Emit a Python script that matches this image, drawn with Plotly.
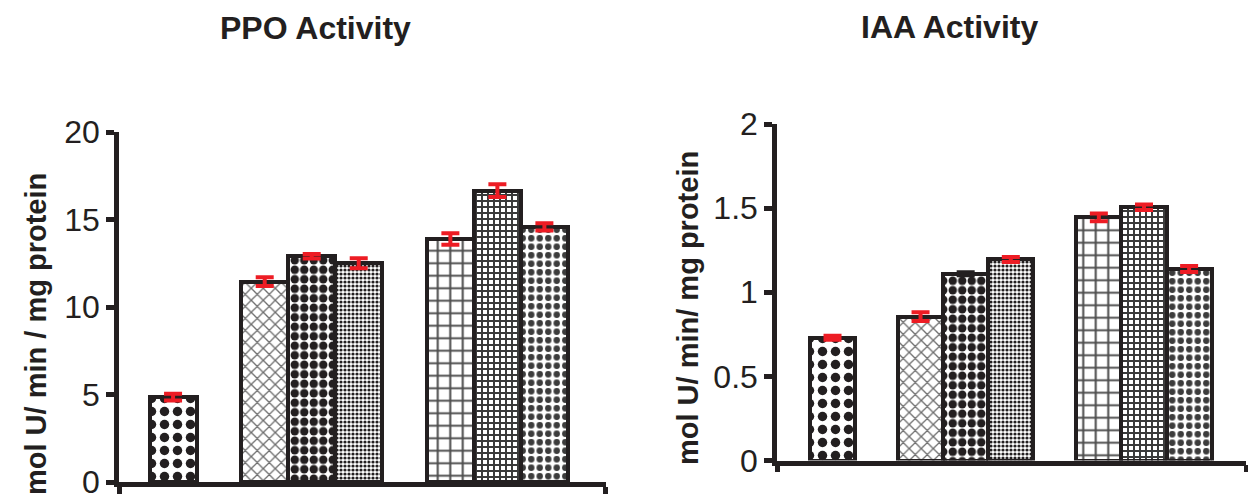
import plotly.graph_objects as go

# ---------------- data ----------------
bar_labels = ["Control", "T1-a", "T1-b", "T1-c", "T2-a", "T2-b", "T2-c"]
group_sizes = [1, 3, 3]

ppo_values = [4.85, 11.45, 12.9, 12.5, 13.88, 16.65, 14.58]
ppo_errors = [0.19, 0.25, 0.13, 0.29, 0.33, 0.36, 0.21]

iaa_values = [0.73, 0.855, 1.11, 1.195, 1.445, 1.505, 1.138]
iaa_errors = [0.012, 0.026, 0.009, 0.015, 0.023, 0.016, 0.018]

ppo_ticks = [0, 5, 10, 15, 20]
ppo_tick_text = ["0", "5", "10", "15", "20"]
iaa_ticks = [0, 0.5, 1, 1.5, 2]
iaa_tick_text = ["0", "0.5", "1", "1.5", "2"]

titles = ["PPO Activity", "IAA Activity"]
y_titles = ["mol U/ min / mg protein", "mol U/ min/ mg protein"]

# ---------------- styles ----------------
W, H = 1248, 494
INK = "#231f20"
RED = "#ed1c24"
FONT = "Liberation Sans, Arial, Helvetica, sans-serif"
GROUP_GAP = 0.95

patterns = [
    dict(shape=".", size=13, solidity=0.42, fgcolor=INK, bgcolor="white", fgopacity=1),
    dict(shape="x", size=8.5, solidity=0.28, fgcolor="#6d6d6d", bgcolor="white", fgopacity=1),
    dict(shape=".", size=9.5, solidity=0.62, fgcolor=INK, bgcolor="white", fgopacity=1),
    dict(shape=".", size=4, solidity=0.5, fgcolor=INK, bgcolor="white", fgopacity=1),
    dict(shape="+", size=12.5, solidity=0.3, fgcolor="#4d4d4d", bgcolor="white", fgopacity=1),
    dict(shape="+", size=6, solidity=0.55, fgcolor="#3a3a3a", bgcolor="white", fgopacity=1),
    dict(shape=".", size=8.5, solidity=0.45, fgcolor="#3c3c3c", bgcolor="white", fgopacity=1),
]
ppo_err_colors = [RED] * 7
iaa_err_colors = [RED, RED, INK, RED, RED, RED, RED]

# bar centre positions derived from the group structure (bars touch inside a group)
x_pos = []
p = 0.0
for n in group_sizes:
    for _ in range(n):
        x_pos.append(p)
        p += 1.0
    p += GROUP_GAP


def px_x(v):
    return v / W


def px_y(v):
    return 1 - v / H


fig = go.Figure()

panels = [
    dict(vals=ppo_values, errs=ppo_errors, ecol=ppo_err_colors, xa="x", ya="y"),
    dict(vals=iaa_values, errs=iaa_errors, ecol=iaa_err_colors, xa="x2", ya="y2"),
]
for pan in panels:
    for i in range(len(bar_labels)):
        fig.add_trace(go.Bar(
            x=[x_pos[i]], y=[pan["vals"][i]], name=bar_labels[i],
            width=1.0,
            marker=dict(color="white", pattern=patterns[i],
                        line=dict(color=INK, width=4)),
            error_y=dict(type="data", array=[pan["errs"][i]], visible=True,
                         color=pan["ecol"][i], thickness=4, width=9),
            xaxis=pan["xa"], yaxis=pan["ya"], showlegend=False,
            hovertemplate=bar_labels[i] + ": %{y}<extra></extra>",
        ))

L_RANGE = [-1.15, 9.2]
R_RANGE = [-1.23, 9.16]

axis_common = dict(showline=True, linecolor=INK, linewidth=4.5, showgrid=False,
                   zeroline=False, ticks="outside", tickcolor=INK, tickwidth=4.5,
                   automargin=False, ticklabeloverflow="allow")

fig.update_layout(
    width=W, height=H,
    margin=dict(l=0, r=0, t=0, b=0, pad=0, autoexpand=False),
    paper_bgcolor="white", plot_bgcolor="white",
    bargap=0, barmode="overlay",
    font=dict(family=FONT, color=INK),
    xaxis=dict(domain=[px_x(119), px_x(605.5)], range=L_RANGE,
               tickvals=L_RANGE, showticklabels=False, ticklen=10, **axis_common),
    yaxis=dict(domain=[px_y(482), px_y(132)], range=[0, 20],
               tickvals=ppo_ticks, ticktext=ppo_tick_text, ticklen=8,
               tickfont=dict(size=32, family=FONT, color=INK), **axis_common),
    xaxis2=dict(domain=[px_x(777), px_x(1246)], range=R_RANGE, anchor="y2",
                tickvals=R_RANGE, showticklabels=False, ticklen=7, **axis_common),
    yaxis2=dict(domain=[px_y(460.5), px_y(124)], range=[0, 2], anchor="x2",
                tickvals=iaa_ticks, ticktext=iaa_tick_text, ticklen=8,
                tickfont=dict(size=32, family=FONT, color=INK), **axis_common),
)

ann = []
for txt, cx, cy in [(titles[0], 315.5, 28), (titles[1], 949.5, 27)]:
    ann.append(dict(text="<b>" + txt + "</b>", x=px_x(cx), y=px_y(cy),
                    xref="paper", yref="paper", xanchor="center", yanchor="middle",
                    showarrow=False, font=dict(size=32, family=FONT, color=INK)))
for txt, cx, cy in [(y_titles[0], 36, 334), (y_titles[1], 688, 308)]:
    ann.append(dict(text="<b>" + txt + "</b>", x=px_x(cx), y=px_y(cy),
                    xref="paper", yref="paper", xanchor="center", yanchor="middle",
                    textangle=-90, showarrow=False,
                    font=dict(size=29, family=FONT, color=INK)))
fig.update_layout(annotations=ann)

fig.write_html("out.html",
               config={"displayModeBar": False},
               post_script="document.body.style.margin='0';document.body.style.overflow='hidden';")
